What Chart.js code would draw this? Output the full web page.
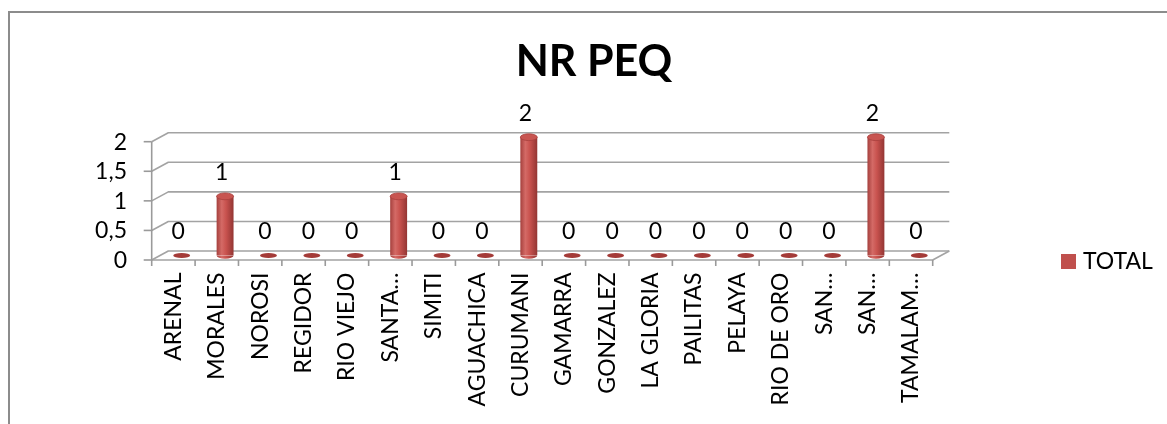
<!DOCTYPE html>
<html><head><meta charset="utf-8">
<script src="https://cdn.jsdelivr.net/npm/chart.js@4.4.0/dist/chart.umd.min.js"></script>
<style>html,body{margin:0;padding:0;background:#fff;overflow:hidden}#wrap{width:1167px;height:424px}</style>
</head><body><div id="wrap"><canvas id="c" width="1167" height="424"></canvas></div>
<script>
const chartTitle = 'NR PEQ';
const seriesName = 'TOTAL';
const categories = ['ARENAL','MORALES','NOROSI','REGIDOR','RIO VIEJO','SANTA…','SIMITI','AGUACHICA','CURUMANI','GAMARRA','GONZALEZ','LA GLORIA','PAILITAS','PELAYA','RIO DE ORO','SAN…','SAN…','TAMALAM…'];
const totalValues = [0,1,0,0,0,1,0,0,2,0,0,0,0,0,0,0,2,0];
const yTickLabels = ['0','0,5','1','1,5','2'];

const FONT = 'Lato';
const FS = 23;
const BASE = '#C0504D';
const DX = 8.3, DY = 4.5;      // 3D depth offsets (half depth)
const BAR_FRAC = 0.39;

function barW(chart){ const xs = chart.scales.x; return xs.width / categories.length * BAR_FRAC; }

const threeD = {
  id: 'threeD',
  beforeDraw(chart){
    const c = chart.ctx;
    c.save();
    c.fillStyle = '#fff'; c.fillRect(0,0,chart.width,chart.height);
    c.strokeStyle = '#8c8c8c'; c.lineWidth = 2;
    c.strokeRect(9, 12, chart.width + 20, chart.height + 20);
    c.restore();
  },
  beforeDatasetsDraw(chart){
    const c = chart.ctx, xs = chart.scales.x, ys = chart.scales.y;
    const L = chart.chartArea.left, R = chart.chartArea.right;
    c.save();
    c.strokeStyle = '#a3a3a3'; c.lineWidth = 1.6; c.lineJoin = 'round';
    ys.ticks.forEach(t => {
      const y = ys.getPixelForValue(t.value);
      c.beginPath();
      c.moveTo(L - DX, y + DY); c.lineTo(L + DX, y - DY); c.lineTo(R + DX, y - DY);
      c.stroke();
    });
    const y0 = ys.getPixelForValue(0), yT = ys.getPixelForValue(ys.max);
    c.beginPath();
    c.moveTo(L - DX, y0 + DY); c.lineTo(R - DX, y0 + DY); c.lineTo(R + DX, y0 - DY);
    c.stroke();
    c.strokeStyle = '#9a9a9a';
    c.beginPath(); c.moveTo(L - DX, y0 + DY); c.lineTo(L - DX, yT + DY); c.stroke();
    ys.ticks.forEach(t => {
      const y = ys.getPixelForValue(t.value) + DY;
      c.beginPath(); c.moveTo(L - DX - 8, y); c.lineTo(L - DX, y); c.stroke();
    });
    const step = xs.width / categories.length;
    for (let i = 0; i <= categories.length; i++) {
      const x = xs.getPixelForValue(0) - step/2 + i*step - DX;
      c.beginPath(); c.moveTo(x, y0 + DY); c.lineTo(x, y0 + DY + 6); c.stroke();
    }
    c.restore();
  },
  afterDatasetsDraw(chart){
    const c = chart.ctx, ys = chart.scales.y;
    const meta = chart.getDatasetMeta(0);
    const base = ys.getPixelForValue(0);
    const w = barW(chart);
    c.save();
    meta.data.forEach((el, i) => {
      const v = totalValues[i];
      if (v === 0) {
        c.beginPath(); c.ellipse(el.x, base, w/2, 2.6, 0, 0, Math.PI*2);
        c.fillStyle = '#a43b38'; c.fill();
      } else {
        c.beginPath(); c.ellipse(el.x, base, w/2, 3.2, 0, 0, Math.PI);
        c.fillStyle = el.options.backgroundColor; c.fill();
        c.beginPath(); c.ellipse(el.x, el.y, w/2, 3.4, 0, 0, Math.PI*2);
        c.fillStyle = '#c85551'; c.fill();
        c.strokeStyle = '#a8403d'; c.lineWidth = 0.8; c.stroke();
      }
      c.fillStyle = '#000';
      c.font = FS + 'px ' + FONT;
      c.textAlign = 'center'; c.textBaseline = 'middle';
      c.fillText(String(v), el.x - 3.5, el.y - 24);
    });
    c.restore();
  },
  afterDraw(chart){
    const c = chart.ctx;
    const R = chart.chartArea.right;
    c.save();
    c.fillStyle = BASE;
    const bx = R + 120, by = 261.5 - 7.5;
    c.fillRect(bx, by, 15, 15);
    c.fillStyle = '#000'; c.font = FS + 'px ' + FONT;
    c.textAlign = 'left'; c.textBaseline = 'middle';
    c.fillText(chart.data.datasets[0].label, bx + 22, by + 8);
    c.restore();
  }
};

Chart.defaults.font.family = FONT;
Chart.defaults.font.size = FS;
Chart.defaults.color = '#000';

new Chart(document.getElementById('c'), {
  type: 'bar',
  data: {
    labels: categories,
    datasets: [{
      label: seriesName,
      data: totalValues,
      barPercentage: BAR_FRAC,
      categoryPercentage: 1.0,
      borderWidth: 0,
      backgroundColor: (ctx) => {
        const chart = ctx.chart, xs = chart.scales && chart.scales.x;
        if (!xs || ctx.type !== 'data' || !isFinite(xs.width)) return BASE;
        const cx = xs.getPixelForValue(ctx.dataIndex);
        const w = barW(chart);
        const g = chart.ctx.createLinearGradient(cx - w/2, 0, cx + w/2, 0);
        g.addColorStop(0, '#a5403d');
        g.addColorStop(0.3, '#d46a66');
        g.addColorStop(0.55, '#c9534f');
        g.addColorStop(1, '#933533');
        return g;
      }
    }]
  },
  options: {
    responsive: false,
    animation: false,
    devicePixelRatio: 1,
    layout: { padding: { left: 21, right: 0, top: 0, bottom: 0 } },
    plugins: {
      legend: { display: false },
      tooltip: { enabled: false },
      title: {
        display: true, text: chartTitle, color: '#000',
        font: { family: FONT, size: 43, weight: 'bold', lineHeight: 1.2 },
        padding: { top: 36, bottom: 49.6 }
      }
    },
    scales: {
      x: {
        grid: { display: false, drawTicks: false },
        border: { display: false },
        ticks: { autoSkip: false, minRotation: 90, maxRotation: 90, padding: 17, labelOffset: -DX, color: '#000', font: { size: FS } },
        afterFit: (s) => { s.height = 168.5; }
      },
      y: {
        min: 0, max: 2,
        grid: { display: false, drawTicks: false },
        border: { display: false },
        ticks: { count: yTickLabels.length, autoSkip: false, padding: 33, labelOffset: 5, color: '#000', font: { size: FS },
          callback: (v, i) => yTickLabels[i] },
        afterFit: (s) => { s.width = 139; }
      },
      yRightSpace: {
        position: 'right', display: true,
        grid: { display: false, drawTicks: false },
        border: { display: false },
        ticks: { display: false },
        afterFit: (s) => { s.width = 226; }
      }
    }
  },
  plugins: [threeD]
});
</script></body></html>
